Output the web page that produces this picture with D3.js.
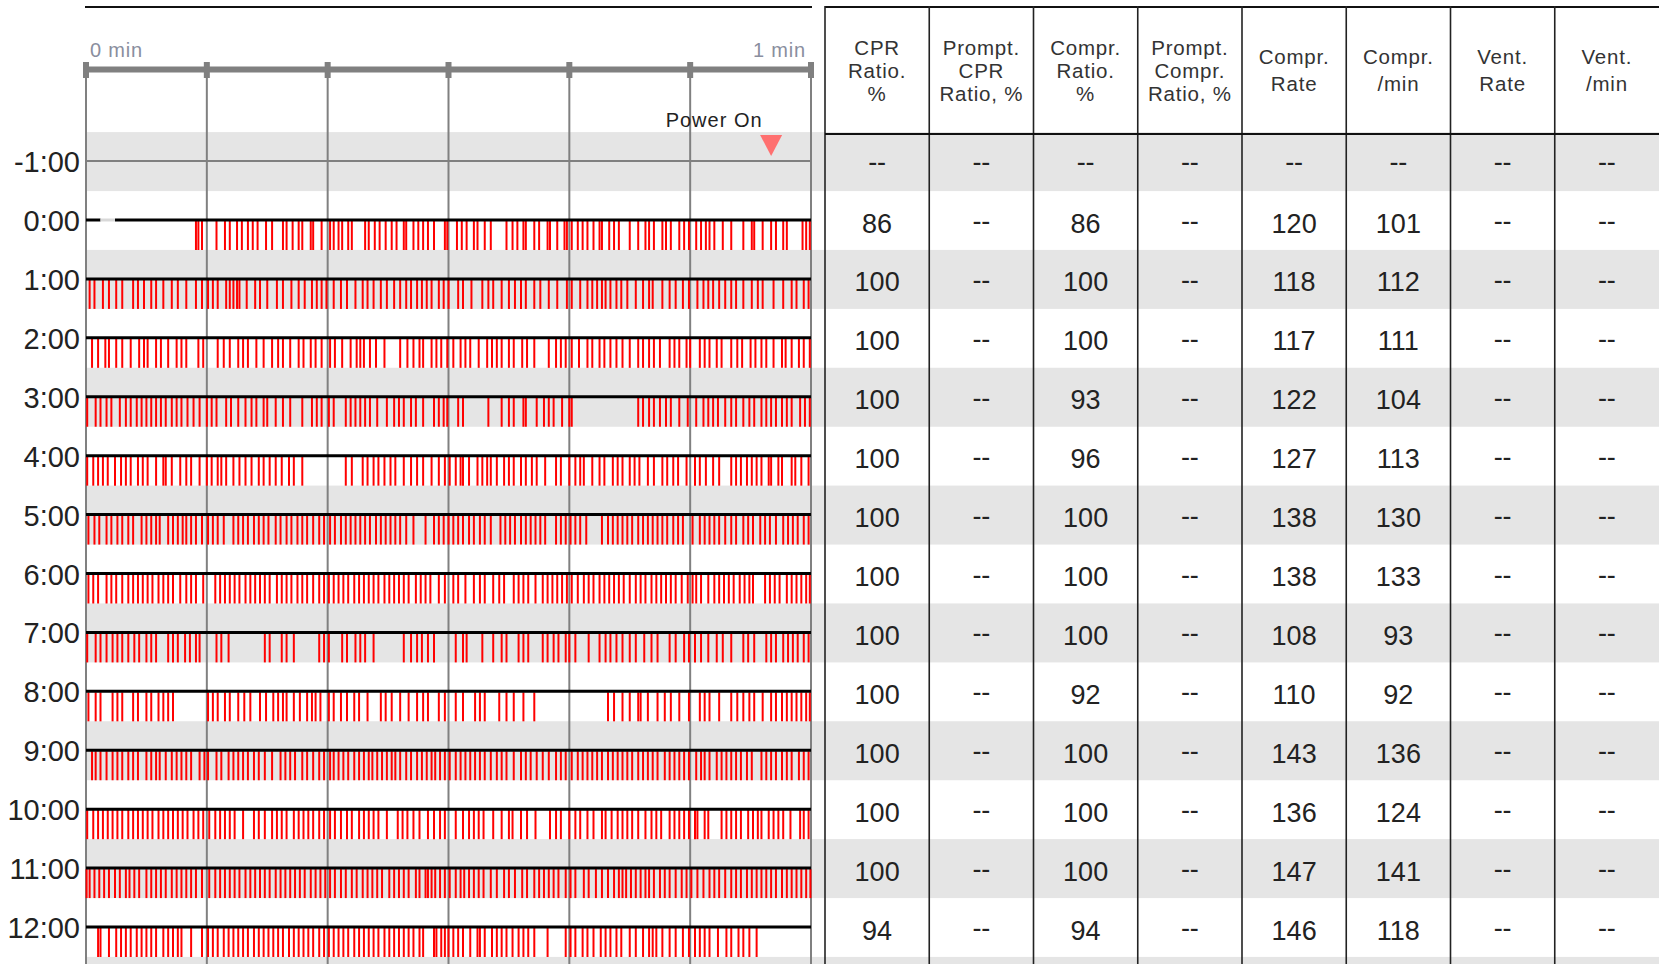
<!DOCTYPE html>
<html><head><meta charset="utf-8">
<script src="https://cdn.jsdelivr.net/npm/d3@7"></script>
<style>
body{margin:0;background:#fff;}
svg{display:block;font-family:"Liberation Sans",Arial,sans-serif;}
</style>
</head><body>
<svg id="chart" width="1659" height="964"></svg>
<script>
// ---------------- DATA ----------------
const minutes = [-1,0,1,2,3,4,5,6,7,8,9,10,11,12];
const rowLabels = ["-1:00","0:00","1:00","2:00","3:00","4:00","5:00","6:00","7:00","8:00","9:00","10:00","11:00","12:00"];
const timeTicks = [0,10,20,30,40,50,60];
const timeLabels = ["0 min","1 min"];

// compression times in seconds within each minute row
const comprM1 = [];
const compr0 = [9.1,9.3,9.6,10.8,11.5,11.9,12.5,12.9,13.4,13.8,14.2,14.9,15.4,16.3,16.6,17.1,17.6,17.9,18.6,18.8,19.5,20.2,20.5,20.9,21.2,21.7,22.0,23.1,23.4,23.9,24.3,24.8,25.3,25.7,26.3,26.5,27.1,27.5,27.9,28.3,28.8,29.7,29.9,30.7,31.1,31.5,32.1,32.4,33.0,33.5,34.8,35.3,35.7,36.2,36.4,37.1,37.5,38.2,38.4,39.0,39.6,39.8,40.2,40.7,41.1,41.5,42.0,42.5,42.7,43.3,43.7,44.1,45.0,45.7,46.3,46.6,47.0,47.7,48.0,48.4,49.1,49.5,49.9,50.5,50.9,51.3,51.6,52.0,52.7,53.4,54.4,55.1,55.3,56.0,56.7,57.1,57.7,58.0,59.3,59.6,59.9];
const compr1 = [0.3,0.7,1.4,1.9,2.5,3.0,3.9,4.3,4.8,5.4,5.8,6.4,7.1,7.6,8.3,9.1,9.6,10.1,10.5,10.9,11.6,11.9,12.2,12.5,12.7,13.3,14.0,14.4,15.0,15.8,16.3,17.0,17.6,18.1,18.7,19.1,19.5,19.9,20.5,21.1,21.6,22.3,22.9,23.3,23.8,24.4,24.9,25.5,26.0,26.5,26.9,27.4,27.8,28.2,28.6,29.2,29.6,30.0,30.8,31.2,31.9,32.8,33.3,33.7,34.4,35.0,35.5,36.0,36.4,37.1,37.6,38.3,39.0,39.8,40.2,40.9,41.5,41.9,42.3,42.7,43.0,43.4,43.9,44.3,44.8,45.5,46.1,46.6,46.9,47.7,48.3,48.8,49.4,49.9,50.6,51.1,51.5,51.9,52.4,52.9,53.4,53.8,54.4,55.1,55.6,56.0,56.9,57.7,58.4,58.8,59.4,59.8];
const compr2 = [0.5,1.0,1.6,1.9,2.5,3.0,3.7,4.4,4.8,5.1,5.8,6.2,6.8,7.5,7.9,8.3,9.3,9.7,10.9,11.4,11.9,12.6,13.0,13.4,14.1,14.7,15.4,15.9,16.3,16.9,17.6,18.0,18.6,19.0,19.5,20.2,20.6,21.2,21.9,22.4,22.7,23.0,23.5,24.0,24.7,26.0,26.6,27.1,27.6,27.9,28.6,29.0,29.4,29.9,30.4,31.0,31.4,31.8,32.5,33.2,33.6,34.0,34.4,35.0,35.4,36.1,36.5,37.1,38.3,38.9,39.3,39.7,40.2,40.8,41.5,41.9,42.5,42.9,43.4,43.9,44.4,45.0,45.7,46.1,46.6,47.0,47.5,48.3,48.7,49.1,49.7,50.0,50.8,51.2,51.6,52.2,52.6,53.4,53.9,54.3,55.0,55.4,55.9,56.3,56.9,57.6,57.9,58.4,59.0,59.4,59.9];
const compr3 = [0.1,0.8,1.2,1.7,2.1,2.8,3.3,3.7,4.2,4.6,5.0,5.4,5.8,6.2,6.6,7.1,7.5,7.9,8.4,8.9,9.4,10.0,10.4,10.8,11.6,12.0,12.6,13.2,13.7,14.1,14.7,15.0,15.7,16.3,16.9,17.9,18.7,19.1,19.5,20.1,20.5,21.5,21.9,22.3,22.7,23.1,23.5,24.1,24.9,25.5,25.9,26.3,26.9,27.3,27.9,28.8,29.2,29.6,29.9,30.8,31.2,33.3,34.4,35.0,35.4,36.2,36.4,37.3,37.9,38.3,38.7,39.4,40.0,40.2,45.7,46.1,46.6,47.0,47.5,48.0,48.4,49.1,49.8,50.5,51.1,51.5,51.9,52.3,52.9,53.4,53.8,54.4,54.9,55.3,55.9,56.3,56.7,57.1,57.6,58.0,58.4,59.1,59.5,59.9];
const compr4 = [0.1,0.6,1.0,1.4,1.8,2.4,2.9,3.3,3.7,4.3,4.7,5.1,5.8,6.4,6.6,7.1,7.8,8.3,8.7,9.4,10.0,10.4,10.9,11.2,11.6,12.2,12.7,13.2,13.7,14.3,14.7,15.2,15.7,16.2,16.8,17.2,17.9,21.5,22.0,22.9,23.3,23.8,24.2,24.7,25.2,25.6,26.3,26.9,27.4,27.9,28.6,29.2,29.7,30.1,30.6,31.0,31.2,31.7,32.4,32.8,33.2,33.5,34.0,34.6,35.0,35.4,36.0,36.4,36.9,37.3,38.0,38.9,39.3,40.0,40.5,40.9,41.2,41.9,42.5,42.9,43.6,44.0,44.4,45.0,45.4,45.8,46.5,47.0,47.7,48.1,48.6,49.0,49.7,50.4,50.8,51.3,51.9,52.4,53.4,53.8,54.2,54.7,55.1,55.5,55.9,56.5,56.7,57.3,57.6,58.4,58.7,59.2,59.8];
const compr5 = [0.2,0.7,1.1,1.7,2.1,2.6,3.0,3.5,3.9,4.6,5.0,5.4,5.8,6.1,6.8,7.2,7.6,8.0,8.3,8.7,9.1,9.6,10.1,10.5,10.9,11.4,12.2,12.6,13.0,13.4,13.9,14.3,14.7,15.1,15.7,16.1,16.6,17.0,17.5,17.9,18.3,18.8,19.3,19.7,20.2,20.6,21.1,21.5,21.9,22.3,22.7,23.1,23.5,24.0,24.4,24.8,25.2,25.6,26.0,26.5,27.1,28.1,28.8,29.2,29.6,30.0,30.4,30.8,31.2,31.7,32.1,32.6,33.0,33.5,34.3,34.7,35.1,35.5,36.0,36.4,36.8,37.2,37.6,38.0,38.9,39.3,39.7,40.1,40.5,40.9,41.4,42.7,43.2,43.6,44.0,44.4,44.8,45.2,45.7,46.1,46.5,46.9,47.3,47.7,48.1,48.6,49.0,49.4,50.2,50.8,51.2,51.6,52.0,52.4,52.9,53.4,53.8,54.4,54.8,55.2,55.8,56.2,56.6,57.1,57.7,58.1,58.5,58.9,59.4,59.8];
const compr6 = [0.2,0.6,1.0,1.7,2.1,2.5,3.0,3.5,3.9,4.3,4.7,5.1,5.5,6.0,6.4,6.8,7.2,7.8,8.3,8.7,9.1,9.7,10.7,11.1,11.5,11.9,12.3,12.7,13.2,13.6,14.0,14.4,14.8,15.2,15.8,16.2,16.6,17.0,17.5,17.9,18.3,18.8,19.3,19.7,20.1,20.5,20.9,21.3,21.7,22.2,22.6,23.0,23.4,23.8,24.2,24.7,25.1,25.5,25.9,26.3,26.7,27.3,27.7,28.1,28.5,29.2,29.7,30.4,30.8,31.4,32.1,32.6,33.0,33.7,34.2,34.6,35.4,35.8,36.2,36.6,37.2,37.8,38.2,38.6,39.0,39.4,39.8,40.2,40.7,41.2,41.6,42.0,42.5,42.9,43.3,43.7,44.1,44.5,45.0,45.5,45.9,46.3,46.8,47.2,47.6,48.0,48.4,48.8,49.3,49.8,50.2,50.5,50.9,51.5,52.0,52.4,52.8,53.2,53.6,54.1,54.5,54.9,55.2,56.2,56.6,57.0,57.4,58.0,58.4,58.8,59.2,59.6,59.9];
const compr7 = [0.1,0.8,1.2,1.7,2.2,2.6,3.0,3.5,4.0,4.4,5.0,5.4,5.8,6.8,7.2,7.6,8.2,8.6,9.1,9.4,10.8,11.2,11.8,14.8,15.2,16.2,16.6,17.2,19.3,19.7,20.1,21.2,21.6,22.3,22.7,23.1,23.8,26.3,26.9,27.4,27.8,28.3,28.8,30.6,31.2,31.5,32.8,33.7,34.4,34.8,35.8,36.2,36.6,37.8,38.2,38.7,39.1,39.7,40.0,40.5,41.6,42.5,43.0,43.4,43.9,44.4,45.0,45.5,46.2,46.8,47.3,48.3,48.8,49.5,49.9,50.4,50.9,51.5,52.2,52.7,53.4,54.4,54.8,55.3,56.3,56.7,57.1,57.7,58.1,58.5,58.9,59.4,59.8];
const compr8 = [0.2,0.8,1.2,2.2,2.6,3.0,3.9,4.3,5.0,5.4,6.0,6.4,6.8,7.2,10.1,10.5,10.9,11.5,11.9,12.6,13.1,13.6,14.4,14.9,15.5,15.9,16.3,16.6,17.2,17.7,18.3,18.7,19.0,19.4,20.1,20.5,21.1,21.6,22.2,22.6,23.3,24.4,24.8,25.3,26.0,26.7,27.4,27.9,28.3,29.2,29.7,30.6,31.2,32.2,32.6,33.0,34.2,34.8,35.4,36.2,37.1,43.2,43.7,44.4,45.0,45.7,45.9,46.5,47.3,47.9,48.4,49.1,49.9,50.8,51.2,51.6,52.4,53.4,53.9,54.4,54.9,55.3,56.0,56.7,57.1,57.6,58.0,58.4,58.8,59.2,59.6,59.9];
const compr9 = [0.5,0.8,1.2,1.7,2.2,2.6,3.0,3.5,3.9,4.3,5.0,5.4,5.8,6.1,6.6,7.1,7.5,7.9,8.3,8.7,9.4,9.8,10.1,10.8,11.2,11.8,12.2,12.6,13.0,13.4,13.9,14.3,14.8,15.4,16.1,16.5,16.9,17.3,17.9,18.3,18.8,19.3,19.7,20.2,20.5,20.9,21.3,21.7,22.2,22.6,23.0,23.4,23.7,24.1,24.5,24.9,25.3,25.6,26.0,26.5,26.9,27.4,27.8,28.2,28.6,28.9,29.3,29.7,30.1,30.6,31.0,31.4,31.8,32.2,32.6,33.0,33.5,34.0,34.4,34.8,35.4,36.0,36.4,36.8,37.3,37.8,38.3,38.9,39.3,39.7,40.2,40.7,41.1,41.5,41.9,42.3,42.7,43.2,43.6,44.0,44.4,44.8,45.2,45.7,46.1,46.5,46.9,47.3,47.9,48.3,48.7,49.1,49.5,49.9,50.5,50.9,51.2,51.6,52.2,52.6,53.0,53.4,53.8,54.2,54.7,55.1,55.9,56.3,56.7,57.1,57.6,58.0,58.4,59.0,59.4,59.8];
const compr10 = [0.1,0.6,1.0,1.4,1.8,2.2,2.6,3.0,3.5,3.9,4.3,4.7,5.1,5.5,6.0,6.4,6.8,7.2,7.6,8.0,8.4,8.9,9.3,9.7,10.2,10.7,11.1,11.5,11.9,12.3,13.0,13.9,14.3,14.8,15.4,15.8,16.2,16.6,17.2,17.6,18.0,18.4,18.8,19.3,19.7,20.2,20.6,21.1,21.6,22.0,22.6,23.0,23.4,23.8,24.2,24.9,25.8,26.2,26.6,27.1,27.6,28.3,28.8,29.3,29.7,30.6,31.2,31.7,32.1,32.5,32.9,33.7,34.4,35.0,35.3,36.0,36.5,37.2,38.4,38.9,39.3,40.0,40.5,40.9,41.5,42.0,42.7,43.0,43.5,44.0,44.4,44.8,45.2,45.7,46.3,46.8,47.2,47.6,48.3,48.7,49.1,49.5,49.9,50.4,50.6,51.2,51.5,52.6,53.0,53.4,53.8,54.2,54.8,55.2,55.6,55.9,56.5,56.9,57.3,57.7,58.3,59.1,59.4,59.8];
const compr11 = [0.05,0.3,0.7,1.1,1.5,1.9,2.4,2.8,3.3,3.6,4.0,4.4,5.0,5.4,5.8,6.2,6.6,7.1,7.5,7.9,8.3,8.7,9.1,9.6,10.2,10.7,11.1,11.5,11.9,12.3,12.7,13.2,13.6,14.0,14.4,14.8,15.2,15.7,16.1,16.5,16.9,17.3,17.7,18.1,18.6,19.0,19.4,19.8,20.2,20.6,21.1,21.5,22.0,22.4,22.9,23.3,23.7,24.1,24.5,25.1,25.5,25.9,26.3,26.7,27.3,27.6,28.1,28.3,28.6,28.9,29.3,29.7,30.1,30.6,31.0,31.3,31.7,32.1,32.5,32.9,33.5,34.0,34.6,35.0,35.5,36.1,36.5,37.1,37.5,37.9,38.3,38.7,39.1,39.7,40.1,40.5,41.2,41.6,42.2,42.7,43.2,43.7,44.1,44.4,44.7,45.1,45.5,45.9,46.3,46.6,47.0,47.5,47.9,48.3,48.8,49.3,49.7,50.1,50.6,51.1,51.6,52.0,52.4,52.9,53.4,53.8,54.2,54.7,55.1,55.5,55.9,56.3,56.7,57.1,57.6,58.0,58.4,58.8,59.2,59.6,59.95];
const compr12 = [1.0,1.2,1.9,2.5,2.9,3.3,3.7,4.2,4.6,5.0,5.4,5.8,6.4,6.8,7.2,7.6,7.9,8.7,9.6,10.1,10.5,10.9,11.4,11.8,12.2,12.6,13.0,13.4,13.9,14.3,14.7,15.1,15.5,15.9,16.3,16.8,17.2,17.6,18.0,18.4,18.8,19.3,19.7,20.1,20.5,20.9,21.3,21.7,22.2,22.6,23.0,23.4,23.8,24.2,24.7,25.1,25.5,25.9,26.3,26.7,27.1,27.6,27.9,28.8,29.0,29.4,29.7,30.0,30.4,30.8,31.2,31.8,32.4,32.6,33.0,33.6,34.0,34.4,34.8,35.3,35.8,36.2,36.6,37.1,38.2,39.7,40.1,40.5,41.1,41.5,42.0,42.6,43.0,43.4,43.9,44.3,45.0,45.5,46.1,46.6,46.9,47.2,47.7,48.3,48.8,49.4,49.9,50.4,50.8,51.2,51.6,52.3,53.0,53.4,54.0,54.4,54.9,55.5];
const compressions = [comprM1,compr0,compr1,compr2,compr3,compr4,compr5,compr6,compr7,compr8,compr9,compr10,compr11,compr12];

// line state of the 0:00 row (seconds)
const row0LineSegments = [[0,1.2,"on"],[1.2,2.4,"off"],[2.4,60,"on"]];
const powerOnEvent = {minute:-1, sec:56.7, label:"Power On"};

// table
const colHeaders = [["CPR","Ratio.","%"],["Prompt.","CPR","Ratio, %"],["Compr.","Ratio.","%"],["Prompt.","Compr.","Ratio, %"],["Compr.","Rate"],["Compr.","/min"],["Vent.","Rate"],["Vent.","/min"]];
const cprRatio        = [null,86,100,100,100,100,100,100,100,100,100,100,100,94];
const promptCprRatio  = [null,null,null,null,null,null,null,null,null,null,null,null,null,null];
const comprRatio      = [null,86,100,100,93,96,100,100,100,92,100,100,100,94];
const promptComprRatio= [null,null,null,null,null,null,null,null,null,null,null,null,null,null];
const comprRate       = [null,120,118,117,122,127,138,138,108,110,143,136,147,146];
const comprPerMin     = [null,101,112,111,104,113,130,133,93,92,136,124,141,118];
const ventRate        = [null,null,null,null,null,null,null,null,null,null,null,null,null,null];
const ventPerMin      = [null,null,null,null,null,null,null,null,null,null,null,null,null,null];
const tableColumns = [cprRatio,promptCprRatio,comprRatio,promptComprRatio,comprRate,comprPerMin,ventRate,ventPerMin];

// ---------------- DRAW ----------------
const W = 1659, H = 964;
const svg = d3.select("#chart");
const x = d3.scaleLinear().domain([0,60]).range([86,811]);
const y = d3.scaleLinear().domain([0,12]).range([220,927]);
const col = d3.scaleBand().domain(d3.range(8)).range([825,W]);

// alternating bands
const bandMinutes = d3.range(-1,14).filter(m => (m+1)%2===0);
svg.append("g").selectAll("rect").data(bandMinutes).join("rect")
  .attr("x",86).attr("width",W-86)
  .attr("y",m=>y(m)-29).attr("height",59)
  .attr("fill","#e5e5e5");

// top lines
svg.append("line").attr("x1",85).attr("x2",812).attr("y1",7).attr("y2",7).attr("stroke","#111").attr("stroke-width",2);
svg.append("line").attr("x1",825).attr("x2",W).attr("y1",7).attr("y2",7).attr("stroke","#111").attr("stroke-width",2);

// time labels
svg.append("text").attr("x",x(0)+4).attr("y",57).attr("font-size",20).attr("letter-spacing",0.8)
  .attr("fill","#8a8e9e").text(timeLabels[0]);
svg.append("text").attr("x",x(60)-5).attr("y",57).attr("font-size",20).attr("letter-spacing",0.8)
  .attr("text-anchor","end").attr("fill","#8a8e9e").text(timeLabels[1]);

// vertical grid
svg.append("g").selectAll("line").data(timeTicks).join("line")
  .attr("x1",d=>x(d)).attr("x2",d=>x(d)).attr("y1",69).attr("y2",H)
  .attr("stroke","#808080").attr("stroke-width",2);

// axis bar
svg.append("line").attr("x1",x(0)).attr("x2",x(60)).attr("y1",69.5).attr("y2",69.5)
  .attr("stroke","#808080").attr("stroke-width",6);
svg.append("g").selectAll("rect").data(timeTicks).join("rect")
  .attr("x",d=>x(d)-3).attr("width",6).attr("y",62).attr("height",16).attr("fill","#808080");

// -1:00 row line (gray)
svg.append("line").attr("x1",x(0)).attr("x2",x(60)).attr("y1",y(-1)).attr("y2",y(-1))
  .attr("stroke","#808080").attr("stroke-width",2);

// compression ticks
const tickG = svg.append("g");
minutes.forEach((m,i)=>{
  tickG.append("g").selectAll("line").data(compressions[i]).join("line")
    .attr("x1",d=>x(d)).attr("x2",d=>x(d))
    .attr("y1",y(m)+1).attr("y2",y(m)+30)
    .attr("stroke","#ff0000").attr("stroke-width",2);
});

// row lines
minutes.filter(m=>m>=0).forEach(m=>{
  const segs = m===0 ? row0LineSegments : [[0,60,"on"]];
  segs.forEach(s=>{
    svg.append("line").attr("x1",x(s[0])).attr("x2",x(s[1])).attr("y1",y(m)).attr("y2",y(m))
      .attr("stroke", s[2]==="on" ? "#000" : "#d8d8d8").attr("stroke-width",3);
  });
});

// row labels
svg.append("g").selectAll("text").data(minutes).join("text")
  .attr("x",80).attr("y",m=>y(m)+11).attr("text-anchor","end")
  .attr("font-size",29).attr("fill","#222")
  .text((m,i)=>rowLabels[i]);

// power on marker
const px = x(powerOnEvent.sec);
svg.append("text").attr("x",px-57).attr("y",127).attr("text-anchor","middle")
  .attr("font-size",20).attr("letter-spacing",1).attr("fill","#222").text(powerOnEvent.label);
svg.append("path").attr("d",`M${px-11},135L${px+11},135L${px},156Z`).attr("fill","#ff7070");

// table column lines
const colEdges = d3.range(8).map(i=>col(i));
svg.append("g").selectAll("line").data(colEdges).join("line")
  .attr("x1",d=>d).attr("x2",d=>d).attr("y1",6).attr("y2",H)
  .attr("stroke","#222").attr("stroke-width",1.6);
svg.append("line").attr("x1",825).attr("x2",W).attr("y1",134).attr("y2",134)
  .attr("stroke","#111").attr("stroke-width",2.2);

// headers
colHeaders.forEach((lines,i)=>{
  const cx = col(i)+col.bandwidth()/2;
  const base = lines.length===3 ? [55,78,101] : [64,91];
  svg.append("g").selectAll("text").data(lines).join("text")
    .attr("x",cx).attr("y",(d,j)=>base[j]).attr("text-anchor","middle")
    .attr("font-size",20.5).attr("letter-spacing",0.8).attr("fill","#333").text(d=>d);
});

// table values
tableColumns.forEach((vals,i)=>{
  const cx = col(i)+col.bandwidth()/2;
  svg.append("g").selectAll("text").data(vals).join("text")
    .attr("x",cx).attr("y",(d,j)=> d==null ? y(minutes[j])+10 : y(minutes[j])+12.5)
    .attr("text-anchor","middle").attr("font-size",27).attr("fill","#222")
    .text(d=> d==null ? "--" : d);
});
</script>
</body></html>
